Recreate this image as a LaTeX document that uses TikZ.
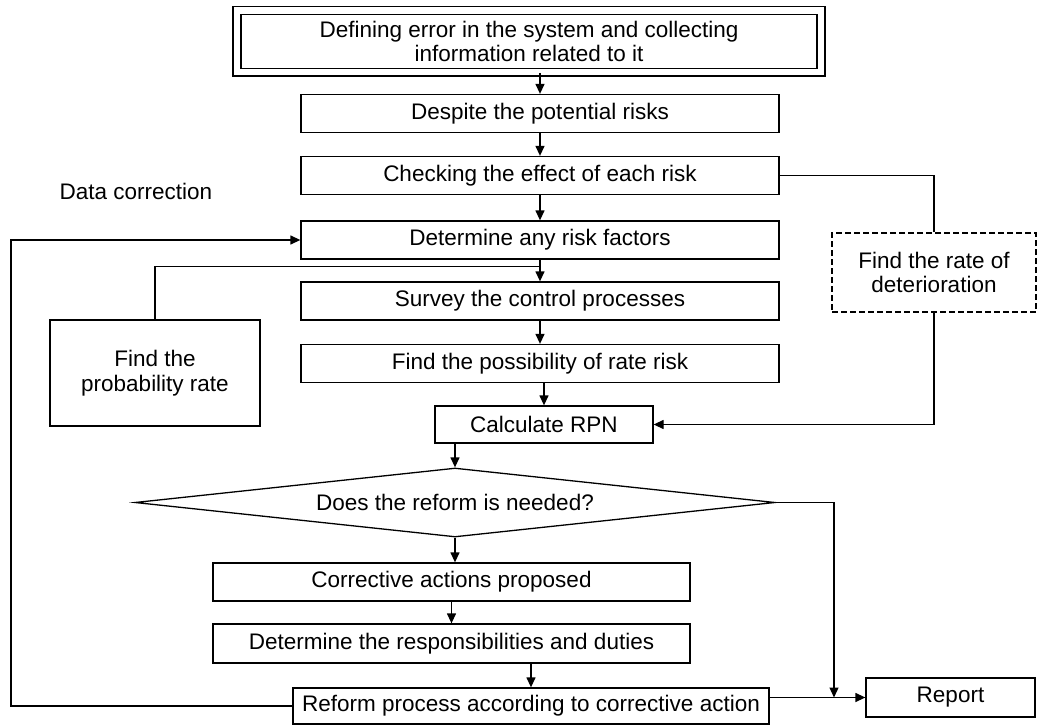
\documentclass[tikz,border=0pt]{standalone}
\usepackage{fontspec}
\setmainfont{Liberation Sans}
\usetikzlibrary{arrows.meta}
\usetikzlibrary{shapes.geometric}
\usetikzlibrary{calc}

\tikzset{
  box/.style={draw, line width=1.3pt, minimum width=478pt, minimum height=38pt, inner sep=0pt, align=center},
  flow/.style={line width=1.3pt, -{Triangle[length=10pt,width=9pt]}},
  link/.style={line width=1.3pt},
}

\begin{document}
\begin{tikzpicture}[x=1pt,y=-1pt,font=\fontsize{22.5}{24.5}\selectfont]
\useasboundingbox (0,0) rectangle (1037,725);
% main column
\node[box, double, double distance=6.5pt, minimum width=584pt, minimum height=61.5pt] (define) at (529,41.5) {Defining error in the system and collecting\\information related to it};
\node[box] (despite) at (540,113.5) {Despite the potential risks};
\node[box] (checking) at (540,175.5) {Checking the effect of each risk};
\node[box] (determine) at (540,240) {Determine any risk factors};
\node[box] (survey) at (540,301) {Survey the control processes};
\node[box] (possibility) at (540,363.5) {Find the possibility of rate risk};
\node[box, minimum width=218pt, minimum height=37pt] (rpn) at (544,424.5) {Calculate RPN};
\node[draw, line width=1.3pt, shape=diamond, aspect=9.3, minimum width=640pt, minimum height=69pt, inner sep=0pt] (diamond) at (455,502.5) {Does the reform is needed?};
\node[box, minimum width=477pt] (corrective) at (451.5,582) {Corrective actions proposed};
\node[box, minimum width=477pt, minimum height=39pt] (duties) at (451.5,643.5) {Determine the responsibilities and duties};
\node[box, minimum width=476pt, minimum height=36pt] (reform) at (531,706) {Reform process according to corrective action};
\node[box, minimum width=169pt, minimum height=39pt] (report) at (950.5,697.5) {Report};
% side boxes
\node[box, minimum width=210pt, minimum height=106pt] (prob) at (155,373) {Find the\\probability rate};
\node[box, dashed, dash pattern=on 6pt off 3pt, line width=1.5pt, minimum width=204pt, minimum height=79pt] (deter) at (934,272.5) {Find the rate of\\deterioration};
\node (label) at (136,191) {Data correction};
\coordinate (merge) at (834,697.5);
\coordinate (back) at (11,470);
\coordinate (joint) at ($(determine.south)!0.3!(survey.north)$);
% arrows down the column
\draw[flow] (despite.north |- define.south) -- (despite.north);
\draw[flow] (despite.south) -- (checking.north);
\draw[flow] (checking.south) -- (determine.north);
\draw[flow] (determine.south) -- (survey.north);
\draw[flow] (survey.south) -- (possibility.north);
\draw[flow] (rpn.north |- possibility.south) -- (rpn.north);
\draw[flow] (diamond.north |- rpn.south) -- (diamond.north);
\draw[flow] (diamond.south) -- (diamond.south |- corrective.north);
\draw[flow] (corrective.south) -- (duties.north);
\draw[flow] (reform.north |- duties.south) -- (reform.north);
\draw[flow] (reform.east |- report.west) -- (report.west);
% side links
\draw[link] (prob.north) |- (joint);
\draw[link] (checking.east) -| (deter.north);
\draw[flow] (deter.south) |- (rpn.east);
\draw[flow] (diamond.east) -| (merge);
\draw[flow] (reform.west) -| (back) |- (determine.west);
\end{tikzpicture}
\end{document}
